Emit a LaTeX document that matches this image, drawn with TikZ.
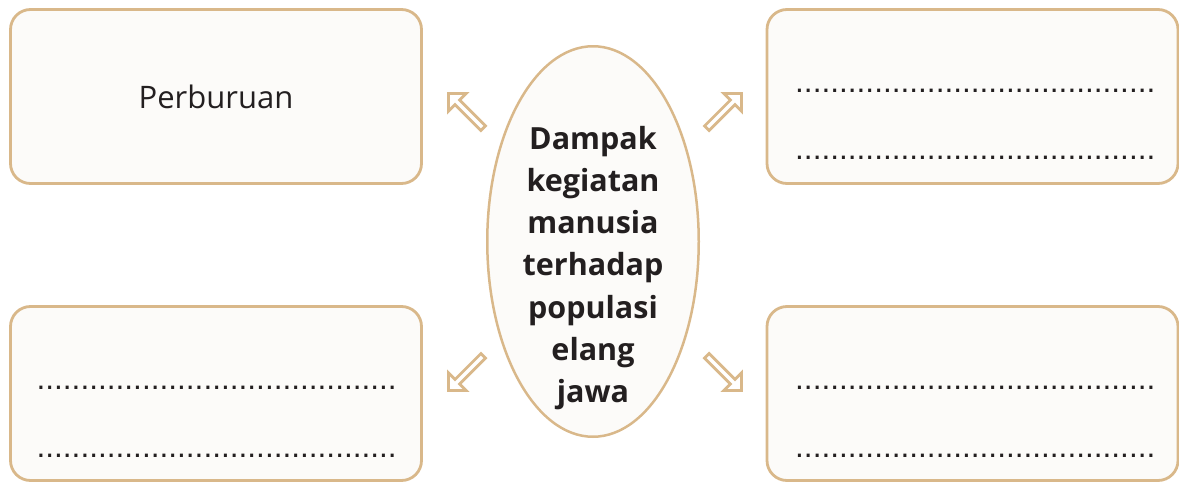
\documentclass[tikz,border=0pt]{standalone}
\usepackage{fontspec}
\setmainfont{Open Sans}
\newfontfamily\dotfont{Liberation Sans}
\usetikzlibrary{shapes.geometric}
\definecolor{tan}{RGB}{217,184,138}
\definecolor{paper}{RGB}{252,251,249}
\definecolor{ink}{RGB}{35,31,32}
\tikzset{
  card/.style={draw=tan, fill=paper, line width=2.8pt, rounded corners=20pt,
    minimum width=411pt, minimum height=174pt, inner sep=0pt, anchor=center,
    text=ink, font=\fontsize{31}{36}\selectfont},
  oval/.style={draw=tan, fill=paper, line width=2.5pt, ellipse,
    minimum width=211.5pt, minimum height=390.5pt, inner sep=0pt},
  ovaltext/.style={align=center, text=ink, inner sep=0pt,
    font=\fontsize{30.5}{42.3}\selectfont\bfseries},
  dotrow/.style={anchor=base west, inner sep=0pt, text=ink,
    font=\dotfont\fontsize{31.6}{36}\selectfont},
  blockarrow/.style={draw=tan, line width=2.8pt, fill=white, line join=miter}
}
\begin{document}
\begin{tikzpicture}[x=1pt,y=-1pt]
\useasboundingbox (0,0) rectangle (1179,482);
% boxes
\node[card] (tl) at (216,96.5) {Perburuan};
\node[card] (tr) at (972.5,96.5) {};
\node[card] (bl) at (216,393.5) {};
\node[card] (br) at (972.5,393.5) {};
% dotted fill-in lines
\node[dotrow] (tr1) at (795,92.5) {.........................................};
\node[dotrow] (tr2) at (795,159.8) {.........................................};
\node[dotrow] (bl1) at (36.4,389.5) {.........................................};
\node[dotrow] (bl2) at (36.4,457.2) {.........................................};
\node[dotrow] (br1) at (795,389.8) {.........................................};
\node[dotrow] (br2) at (795,457.2) {.........................................};
% centre ellipse
\node[oval] (center) at (593,241.5) {};
\node[ovaltext] (centertext) at (593,268) {Dampak\\kegiatan\\manusia\\terhadap\\populasi\\elang\\jawa};
% block arrows (tip at origin, body along -x before rotation)
\coordinate (atl) at (448.5,93.5);
\coordinate (atr) at (741.5,93.5);
\coordinate (abl) at (448.5,390.5);
\coordinate (abr) at (741.5,390.5);
\foreach \c/\a in {atl/135, atr/45, abl/225, abr/315}{
  \begin{scope}[shift={(\c)}, rotate=\a]
    \draw[blockarrow] (0,0) -- (-12.5,12.5) -- (-12.5,3.2) -- (-49,3.2)
      -- (-49,-3.2) -- (-12.5,-3.2) -- (-12.5,-12.5) -- cycle;
  \end{scope}
}
\end{tikzpicture}
\end{document}
